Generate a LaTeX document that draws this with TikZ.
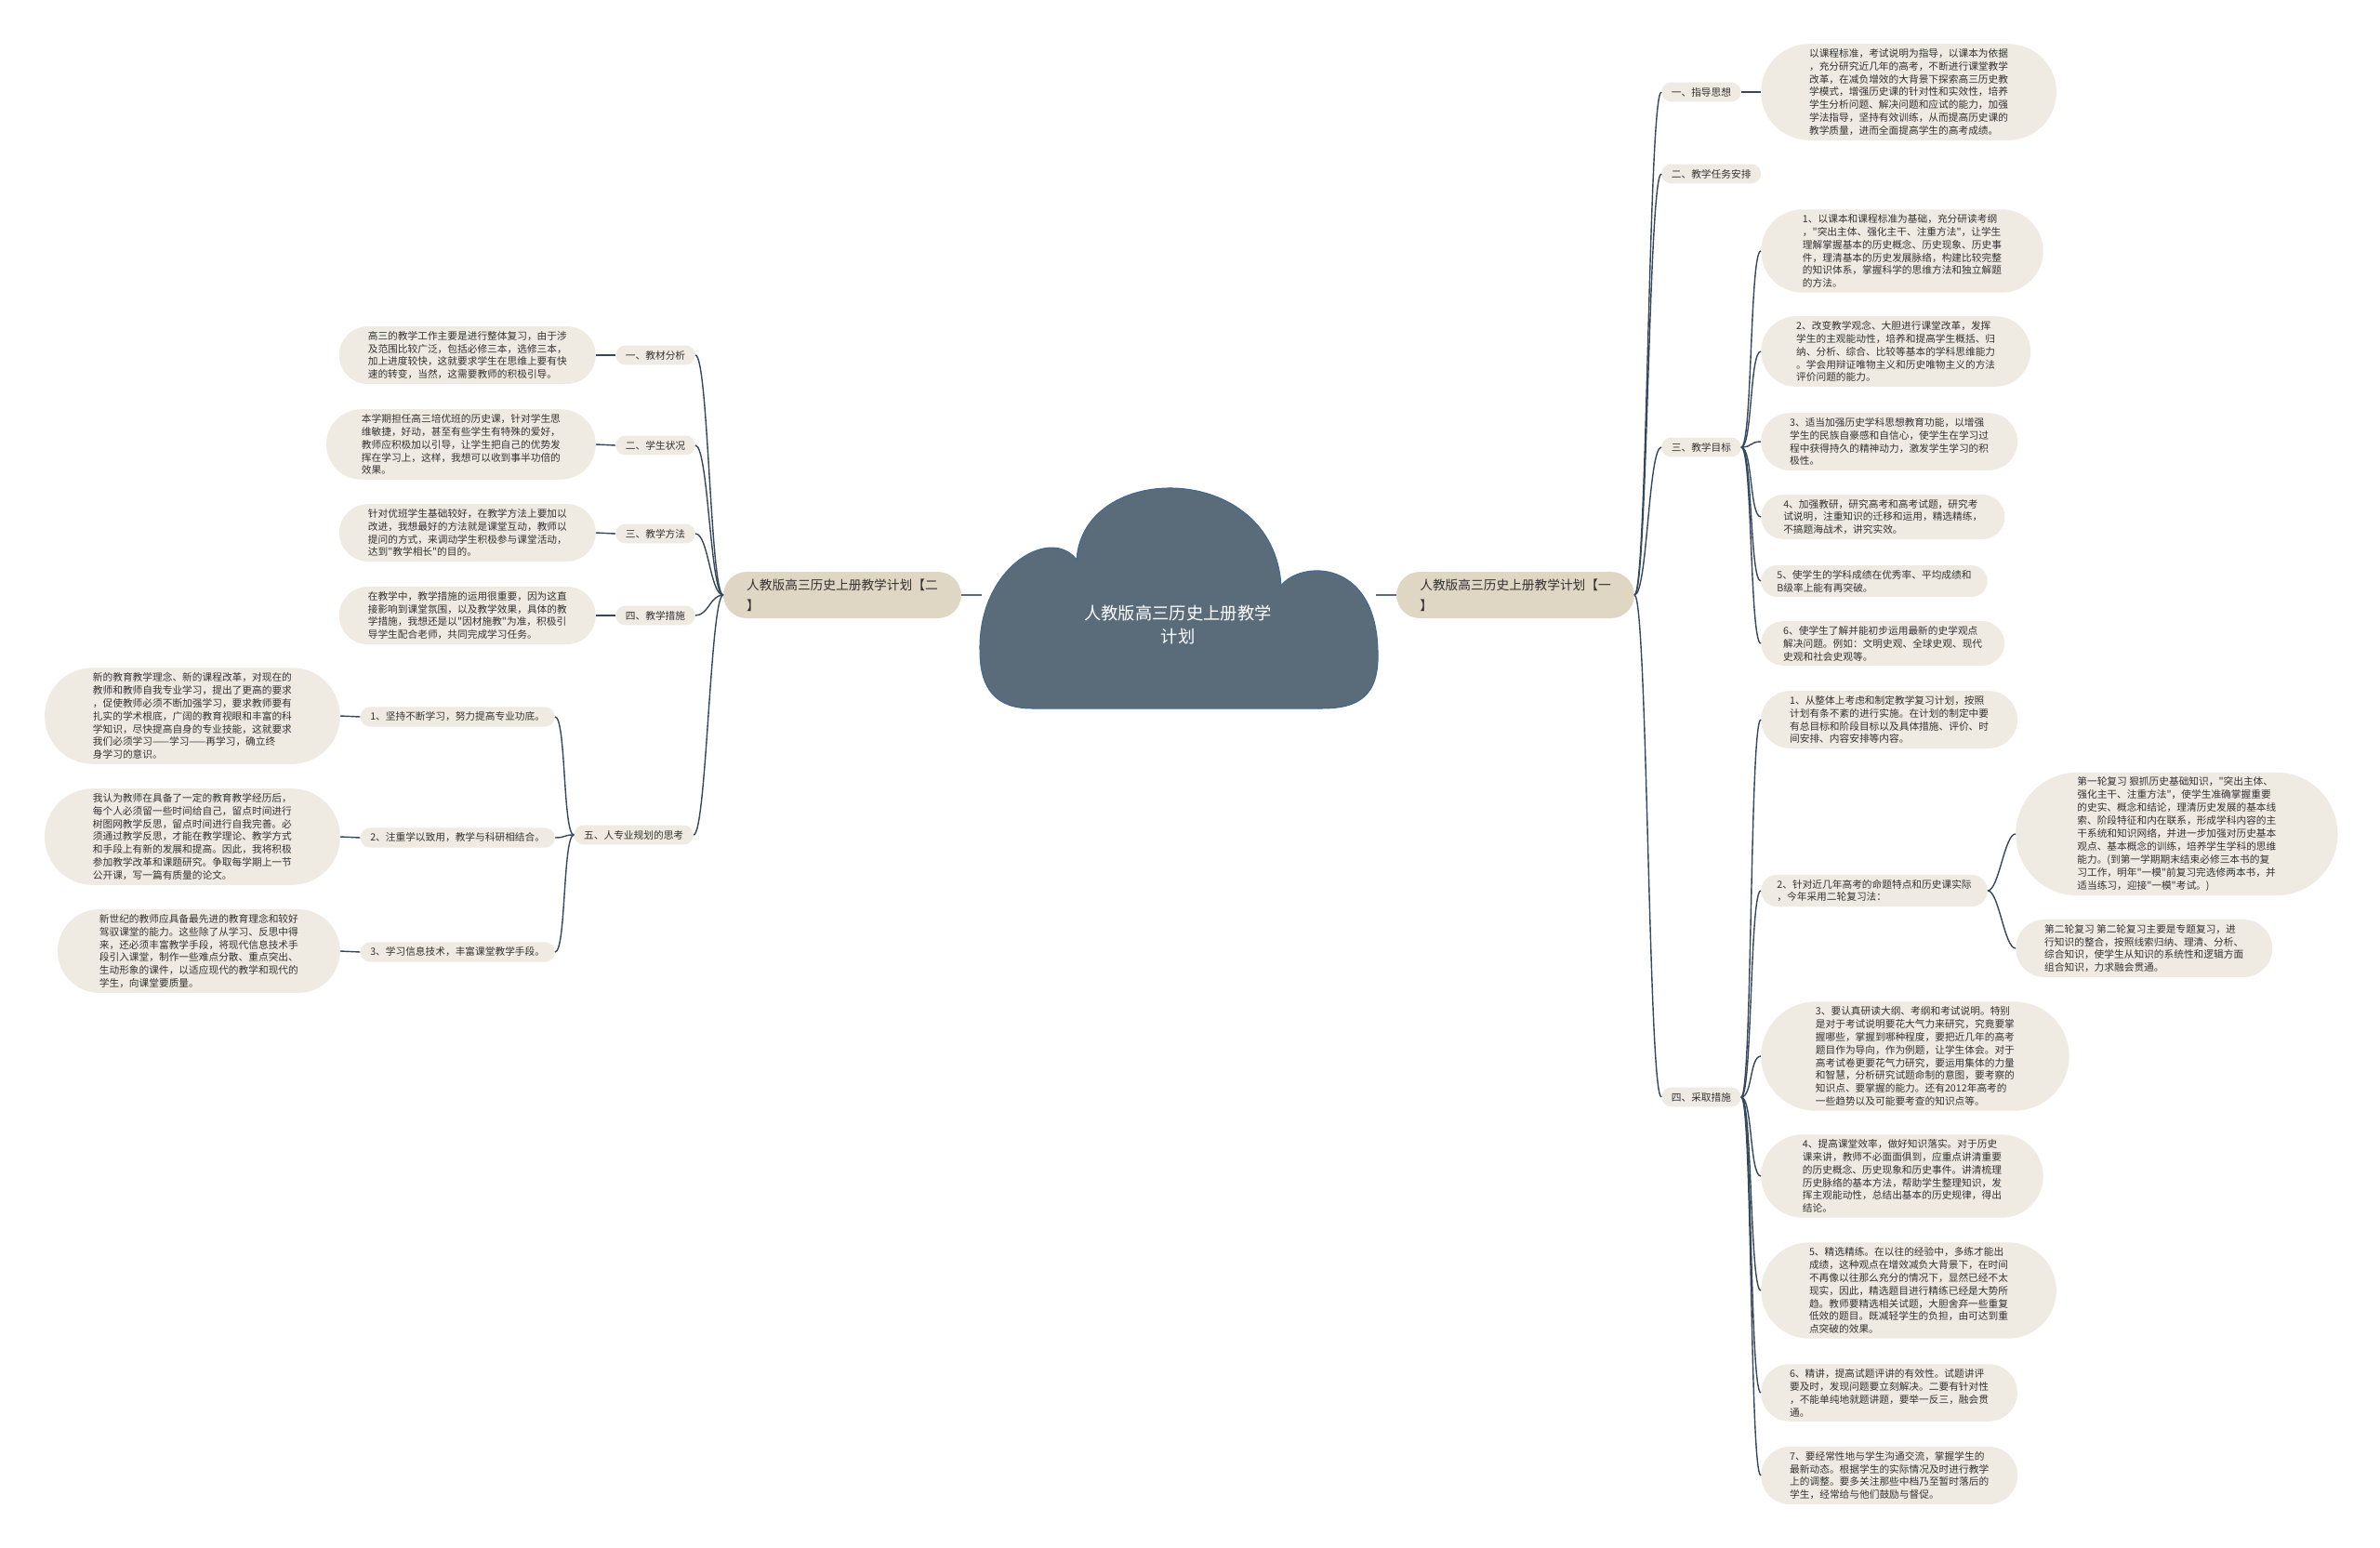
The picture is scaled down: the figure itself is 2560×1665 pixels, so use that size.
\documentclass[tikz,border=0pt]{standalone}
\usepackage{fontspec}
\newfontfamily\cjk{Noto Sans CJK SC}
\usetikzlibrary{shapes.misc}
\definecolor{leafbg}{HTML}{EFEBE3}
\definecolor{branchbg}{HTML}{E0D6C4}
\definecolor{cloudbg}{HTML}{5A6C7A}
\definecolor{cloudline}{HTML}{3F6896}
\definecolor{linkc}{HTML}{35475A}
\definecolor{txt}{HTML}{333333}
\begin{document}
\begin{tikzpicture}[x=1pt, y=-1pt,
    leaf/.style={rounded rectangle, fill=leafbg, text=txt, inner xsep=#1pt, inner ysep=5pt, align=left, font=\cjk\fontsize{10.7}{13.9}\selectfont},
    topic/.style={leaf=9.4, inner ysep=5.5pt},
    branch/.style={leaf=18, fill=branchbg, inner ysep=7.5pt, font=\cjk\fontsize{13.7}{22}\selectfont},
    link/.style={draw=linkc, line width=1.4pt},
    stem/.style={draw=cloudbg, line width=2.2pt}]
    \fill[white] (0,0) rectangle (2560,1665);
    \useasboundingbox (0,0) rectangle (2560,1665);
    % Cloud
    \filldraw[fill=cloudbg, draw=cloudline, line width=1pt] (1054,700)
        .. controls (1052,610) and (1130,565) .. (1158,602)
        .. controls (1165,495) and (1370,495) .. (1378,630)
        .. controls (1398,603) and (1480,600) .. (1482,700)
        .. controls (1484,748) and (1462,762) .. (1422,762) -- (1110,762)
        .. controls (1072,762) and (1054,742) .. (1054,700) -- cycle;
    \node[text=white, align=center, font=\cjk\fontsize{18.3}{24.5}\selectfont] (title) at (1267,672) {人教版高三历史上册教学\\计划};
    \coordinate (cL) at (1056,640); \coordinate (cR) at (1480,640);
    % Main branches
    \node[branch, anchor=west] (planA) at (1502,640) {人教版高三历史上册教学计划【一\\】};
    \node[branch, anchor=east] (planB) at (1034,640) {人教版高三历史上册教学计划【二\\】};
    % Right topics
    \node[topic, anchor=west] (a1) at (1787,99) {一、指导思想};
    \node[topic, anchor=west] (a2) at (1787,187) {二、教学任务安排};
    \node[topic, anchor=west] (a3) at (1787,481) {三、教学目标};
    \node[topic, anchor=west] (a4) at (1787,1180) {四、采取措施};
    % Right leaves
    \node[leaf=22.3, anchor=west] (a1t) at (1894,99) {以课程标准，考试说明为指导，以课本为依据\\，充分研究近几年的高考，不断进行课堂教学\\改革，在减负增效的大背景下探索高三历史教\\学模式，增强历史课的针对性和实效性，培养\\学生分析问题、解决问题和应试的能力，加强\\学法指导，坚持有效训练，从而提高历史课的\\教学质量，进而全面提高学生的高考成绩。};
    \node[leaf=20.6, anchor=west] (a3t1) at (1894,270) {1、以课本和课程标准为基础，充分研读考纲\\，"突出主体、强化主干、注重方法"，让学生\\理解掌握基本的历史概念、历史现象、历史事\\件，理清基本的历史发展脉络，构建比较完整\\的知识体系，掌握科学的思维方法和独立解题\\的方法。};
    \node[leaf=18.9, anchor=west] (a3t2) at (1894,378) {2、改变教学观念、大胆进行课堂改革，发挥\\学生的主观能动性，培养和提高学生概括、归\\纳、分析、综合、比较等基本的学科思维能力\\。学会用辩证唯物主义和历史唯物主义的方法\\评价问题的能力。};
    \node[leaf=16.9, anchor=west] (a3t3) at (1894,475) {3、适当加强历史学科思想教育功能，以增强\\学生的民族自豪感和自信心，使学生在学习过\\程中获得持久的精神动力，激发学生学习的积\\极性。};
    \node[leaf=14.7, anchor=west] (a3t4) at (1894,556) {4、加强教研，研究高考和高考试题，研究考\\试说明，注重知识的迁移和运用，精选精练，\\不搞题海战术，讲究实效。};
    \node[leaf=12.2, anchor=west] (a3t5) at (1894,625) {5、使学生的学科成绩在优秀率、平均成绩和\\B级率上能有再突破。};
    \node[leaf=14.7, anchor=west] (a3t6) at (1894,692) {6、使学生了解并能初步运用最新的史学观点\\解决问题。例如：文明史观、全球史观、现代\\史观和社会史观等。};
    \node[leaf=16.9, anchor=west] (a4t1) at (1894,774) {1、从整体上考虑和制定教学复习计划，按照\\计划有条不紊的进行实施。在计划的制定中要\\有总目标和阶段目标以及具体措施、评价、时\\间安排、内容安排等内容。};
    \node[leaf=12.2, anchor=west] (a4t2) at (1894,958) {2、针对近几年高考的命题特点和历史课实际\\，今年采用二轮复习法：};
    \node[leaf=25.2, anchor=west] (a4r1) at (2168,897) {第一轮复习 狠抓历史基础知识，"突出主体、\\强化主干、注重方法"，使学生准确掌握重要\\的史实、概念和结论，理清历史发展的基本线\\索、阶段特征和内在联系，形成学科内容的主\\干系统和知识网络，并进一步加强对历史基本\\观点、基本概念的训练，培养学生学科的思维\\能力。(到第一学期期末结束必修三本书的复\\习工作，明年"一模"前复习完选修两本书，并\\适当练习，迎接"一模"考试。)};
    \node[leaf=16.9, anchor=west] (a4r2) at (2168,1020) {第二轮复习 第二轮复习主要是专题复习，进\\行知识的整合，按照线索归纳、理清、分析、\\综合知识，使学生从知识的系统性和逻辑方面\\组合知识，力求融会贯通。};
    \node[leaf=23.8, anchor=west] (a4t3) at (1894,1136) {3、要认真研读大纲、考纲和考试说明。特别\\是对于考试说明要花大气力来研究，究竟要掌\\握哪些，掌握到哪种程度，要把近几年的高考\\题目作为导向，作为例题，让学生体会。对于\\高考试卷更要花气力研究，要运用集体的力量\\和智慧，分析研究试题命制的意图，要考察的\\知识点、要掌握的能力。还有2012年高考的\\一些趋势以及可能要考查的知识点等。};
    \node[leaf=20.6, anchor=west] (a4t4) at (1894,1265) {4、提高课堂效率，做好知识落实。对于历史\\课来讲，教师不必面面俱到，应重点讲清重要\\的历史概念、历史现象和历史事件。讲清梳理\\历史脉络的基本方法，帮助学生整理知识，发\\挥主观能动性，总结出基本的历史规律，得出\\结论。};
    \node[leaf=22.3, anchor=west] (a4t5) at (1894,1388) {5、精选精练。在以往的经验中，多练才能出\\成绩，这种观点在增效减负大背景下，在时间\\不再像以往那么充分的情况下，显然已经不太\\现实，因此，精选题目进行精练已经是大势所\\趋。教师要精选相关试题，大胆舍弃一些重复\\低效的题目。既减轻学生的负担，由可达到重\\点突破的效果。};
    \node[leaf=16.9, anchor=west] (a4t6) at (1894,1498) {6、精讲，提高试题评讲的有效性。试题讲评\\要及时，发现问题要立刻解决。二要有针对性\\，不能单纯地就题讲题，要举一反三，融会贯\\通。};
    \node[leaf=16.9, anchor=west] (a4t7) at (1894,1587) {7、要经常性地与学生沟通交流，掌握学生的\\最新动态。根据学生的实际情况及时进行教学\\上的调整。要多关注那些中档乃至暂时落后的\\学生，经常给与他们鼓励与督促。};
    % Left topics
    \node[topic, anchor=east] (b1) at (748,382) {一、教材分析};
    \node[topic, anchor=east] (b2) at (748,479) {二、学生状况};
    \node[topic, anchor=east] (b3) at (748,574) {三、教学方法};
    \node[topic, anchor=east] (b4) at (748,662) {四、教学措施};
    \node[topic, anchor=east] (b5) at (746,898) {五、人专业规划的思考};
    \node[topic, anchor=east] (b51) at (597,771) {1、坚持不断学习，努力提高专业功底。};
    \node[topic, anchor=east] (b52) at (597,901) {2、注重学以致用，教学与科研相结合。};
    \node[topic, anchor=east] (b53) at (597,1024) {3、学习信息技术，丰富课堂教学手段。};
    % Left leaves
    \node[leaf=16.9, anchor=east] (b1t) at (641,382) {高三的教学工作主要是进行整体复习，由于涉\\及范围比较广泛，包括必修三本，选修三本，\\加上进度较快，这就要求学生在思维上要有快\\速的转变，当然，这需要教师的积极引导。};
    \node[leaf=18.9, anchor=east] (b2t) at (641,478) {本学期担任高三培优班的历史课，针对学生思\\维敏捷，好动，甚至有些学生有特殊的爱好，\\教师应积极加以引导，让学生把自己的优势发\\挥在学习上，这样，我想可以收到事半功倍的\\效果。};
    \node[leaf=16.9, anchor=east] (b3t) at (641,573) {针对优班学生基础较好，在教学方法上要加以\\改进，我想最好的方法就是课堂互动，教师以\\提问的方式，来调动学生积极参与课堂活动，\\达到"教学相长"的目的。};
    \node[leaf=16.9, anchor=east] (b4t) at (641,662) {在教学中，教学措施的运用很重要，因为这直\\接影响到课堂氛围，以及教学效果，具体的教\\学措施，我想还是以"因材施教"为准，积极引\\导学生配合老师，共同完成学习任务。};
    \node[leaf=22.3, anchor=east] (b51t) at (366,770) {新的教育教学理念、新的课程改革，对现在的\\教师和教师自我专业学习，提出了更高的要求\\，促使教师必须不断加强学习，要求教师要有\\扎实的学术根底，广阔的教育视眼和丰富的科\\学知识，尽快提高自身的专业技能，这就要求\\我们必须学习——学习——再学习，确立终\\身学习的意识。};
    \node[leaf=22.3, anchor=east] (b52t) at (366,900) {我认为教师在具备了一定的教育教学经历后，\\每个人必须留一些时间给自己，留点时间进行\\树图网教学反思，留点时间进行自我完善。必\\须通过教学反思，才能在教学理论、教学方式\\和手段上有新的发展和提高。因此，我将积极\\参加教学改革和课题研究。争取每学期上一节\\公开课，写一篇有质量的论文。};
    \node[leaf=20.6, anchor=east] (b53t) at (366,1023) {新世纪的教师应具备最先进的教育理念和较好\\驾驭课堂的能力。这些除了从学习、反思中得\\来，还必须丰富教学手段，将现代信息技术手\\段引入课堂，制作一些难点分散、重点突出、\\生动形象的课件，以适应现代的教学和现代的\\学生，向课堂要质量。};
    % Stems from the cloud
    \draw[stem] (cR) -- (planA.west); \draw[stem] (cL) -- (planB.east);
    % Right links
    \draw[link] (planA.east) .. controls +(14,0) and +(-14,0) .. (a1.west);
    \draw[link] (planA.east) .. controls +(14,0) and +(-14,0) .. (a2.west);
    \draw[link] (planA.east) .. controls +(14,0) and +(-14,0) .. (a3.west);
    \draw[link] (planA.east) .. controls +(14,0) and +(-14,0) .. (a4.west);
    \draw[link] (a1.east) -- (a1t.west);
    \draw[link] (a3.east) .. controls +(12,0) and +(-12,0) .. (a3t1.west); \draw[link] (a3.east) .. controls +(12,0) and +(-12,0) .. (a3t2.west);
    \draw[link] (a3.east) .. controls +(12,0) and +(-12,0) .. (a3t3.west); \draw[link] (a3.east) .. controls +(12,0) and +(-12,0) .. (a3t4.west);
    \draw[link] (a3.east) .. controls +(12,0) and +(-12,0) .. (a3t5.west); \draw[link] (a3.east) .. controls +(12,0) and +(-12,0) .. (a3t6.west);
    \draw[link] (a4.east) .. controls +(12,0) and +(-12,0) .. (a4t1.west); \draw[link] (a4.east) .. controls +(12,0) and +(-12,0) .. (a4t2.west);
    \draw[link] (a4.east) .. controls +(12,0) and +(-12,0) .. (a4t3.west); \draw[link] (a4.east) .. controls +(12,0) and +(-12,0) .. (a4t4.west);
    \draw[link] (a4.east) .. controls +(12,0) and +(-12,0) .. (a4t5.west); \draw[link] (a4.east) .. controls +(12,0) and +(-12,0) .. (a4t6.west);
    \draw[link] (a4.east) .. controls +(12,0) and +(-12,0) .. (a4t7.west);
    \draw[link] (a4t2.east) .. controls +(12,0) and +(-12,0) .. (a4r1.west); \draw[link] (a4t2.east) .. controls +(12,0) and +(-12,0) .. (a4r2.west);
    % Left links
    \draw[link] (planB.west) .. controls +(-14,0) and +(14,0) .. (b1.east);
    \draw[link] (planB.west) .. controls +(-14,0) and +(14,0) .. (b2.east);
    \draw[link] (planB.west) .. controls +(-14,0) and +(14,0) .. (b3.east);
    \draw[link] (planB.west) .. controls +(-14,0) and +(14,0) .. (b4.east);
    \draw[link] (planB.west) .. controls +(-14,0) and +(14,0) .. (b5.east);
    \draw[link] (b1.west) -- (b1t.east); \draw[link] (b2.west) -- (b2t.east);
    \draw[link] (b3.west) -- (b3t.east); \draw[link] (b4.west) -- (b4t.east);
    \draw[link] (b5.west) .. controls +(-12,0) and +(12,0) .. (b51.east);
    \draw[link] (b5.west) .. controls +(-12,0) and +(12,0) .. (b52.east);
    \draw[link] (b5.west) .. controls +(-12,0) and +(12,0) .. (b53.east);
    \draw[link] (b51.west) -- (b51t.east); \draw[link] (b52.west) -- (b52t.east); \draw[link] (b53.west) -- (b53t.east);
\end{tikzpicture}
\end{document}
